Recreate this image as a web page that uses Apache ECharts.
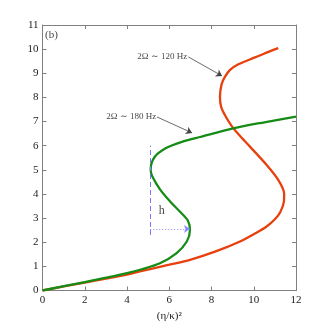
<!DOCTYPE html>
<html>
<head>
<meta charset="utf-8">
<script src="https://cdn.jsdelivr.net/npm/echarts@6/dist/echarts.min.js"></script>
<style>
  html, body { margin: 0; padding: 0; background: #fff; }
  #chart { width: 327px; height: 327px; }
</style>
</head>
<body>
<div id="chart"></div>
<script>
// curve values, [x, y]
const red120 = [
  [0, 0], [2, 0.33], [4, 0.66], [4.61, 0.79], [6, 1.07], [6.98, 1.27], [8.2, 1.62],
  [9.35, 2.03], [10.1, 2.38], [10.61, 2.65], [11.0, 2.95], [11.26, 3.25], [11.43, 3.7],
  [11.44, 4.0], [11.16, 4.58], [10.61, 5.2], [9.82, 5.96], [9.3, 6.45], [8.95, 6.82],
  [8.68, 7.2], [8.46, 7.6], [8.4, 8.03], [8.48, 8.55], [8.64, 8.86], [8.88, 9.14],
  [9.27, 9.37], [9.82, 9.57], [10.45, 9.8], [11.16, 10.04]
]
const green180 = [
  [0, 0], [2, 0.35], [3, 0.53], [4, 0.72], [4.62, 0.86], [5.56, 1.13], [6.35, 1.55],
  [6.83, 2.03], [6.98, 2.5], [6.88, 2.9], [6.5, 3.27], [6.04, 3.69], [5.57, 4.18],
  [5.2, 4.72], [5.12, 5.0], [5.3, 5.52], [5.85, 5.9], [6.6, 6.16], [7.46, 6.36],
  [9.03, 6.72], [10.5, 6.97], [12, 7.2]
]
// annotations
const arrow120 = [[6.9, 9.68], [8.5, 8.89]]
const arrow180 = [[5.42, 7.19], [7.08, 6.53]]
const hDash = [[5.1, 2.3], [5.1, 6.0]]
const hDot = [[5.1, 2.55], [6.98, 2.55]]
const labels = [
  { name: '2Ω ∼ 120 Hz', pos: [6.85, 9.68], align: 'right', size: 9 },
  { name: '2Ω ∼ 180 Hz', pos: [5.38, 7.19], align: 'right', size: 9 },
  { name: 'h', pos: [5.65, 3.28], align: 'center', size: 12 },
  { name: '(b)', pos: [0.12, 10.6], align: 'left', size: 11 }
]
const xTicks = { min: 0, max: 12, interval: 2 }
const yTicks = { min: 0, max: 11, interval: 1 }

const font = 'Liberation Serif'
const frame = '#808080'

function axisBase(t, showLabel) {
  return {
    type: 'value', min: t.min, max: t.max, interval: t.interval,
    axisLine: { show: true, onZero: false, lineStyle: { color: frame, width: 1 } },
    axisTick: { show: true, inside: true, length: 4, lineStyle: { color: frame } },
    axisLabel: { show: showLabel, color: '#222', fontFamily: font, fontSize: 11, margin: 4 },
    splitLine: { show: false }
  }
}

const option = {
  animation: false,
  backgroundColor: '#fff',
  grid: { left: 42.5, right: 31, top: 25, bottom: 36.5, containLabel: false },
  xAxis: [
    Object.assign(axisBase(xTicks, true), {
      position: 'bottom',
      name: '(η/κ)²', nameLocation: 'middle', nameGap: 19,
      nameTextStyle: { fontFamily: font, fontSize: 11, color: '#222' }
    }),
    Object.assign(axisBase(xTicks, false), { position: 'top' })
  ],
  yAxis: [
    Object.assign(axisBase(yTicks, true), { position: 'left' }),
    Object.assign(axisBase(yTicks, false), { position: 'right' })
  ],
  series: [
    {
      name: '120', type: 'line', data: red120, smooth: 0.3, showSymbol: false,
      lineStyle: { color: '#e8400c', width: 2.3 }, z: 3
    },
    {
      name: '180', type: 'line', data: green180, smooth: 0.3, showSymbol: false,
      lineStyle: { color: '#168c16', width: 2.3 }, z: 4
    },
    {
      name: 'marks', type: 'line', data: [], silent: true,
      markLine: {
        silent: true, animation: false,
        label: { show: false },
        data: [
          [{ coord: arrow120[0], symbol: 'none', lineStyle: { color: '#444', width: 0.8, type: 'solid' } },
           { coord: arrow120[1], symbol: 'arrow', symbolSize: 6 }],
          [{ coord: arrow180[0], symbol: 'none', lineStyle: { color: '#444', width: 0.8, type: 'solid' } },
           { coord: arrow180[1], symbol: 'arrow', symbolSize: 6 }],
          [{ coord: hDash[0], symbol: 'none', lineStyle: { color: '#7a7aff', width: 1, type: [5, 3] } },
           { coord: hDash[1], symbol: 'none' }],
          [{ coord: hDot[0], symbol: 'none', lineStyle: { color: '#8a8aff', width: 1, type: [1, 2] } },
           { coord: hDot[1], symbol: 'arrow', symbolSize: 6, itemStyle: { color: '#2020ff' } }]
        ]
      }
    },
    {
      name: 'text', type: 'scatter', symbolSize: 0, silent: true, z: 6,
      data: labels.map(l => ({
        value: l.pos,
        label: {
          show: true, formatter: l.name, position: 'inside', align: l.align,
          verticalAlign: 'middle', color: '#111', fontFamily: font, fontSize: l.size
        }
      }))
    }
  ]
}

const E = echarts.init(document.getElementById('chart'), null, { renderer: 'canvas' })
E.setOption(option)
</script>
</body>
</html>
